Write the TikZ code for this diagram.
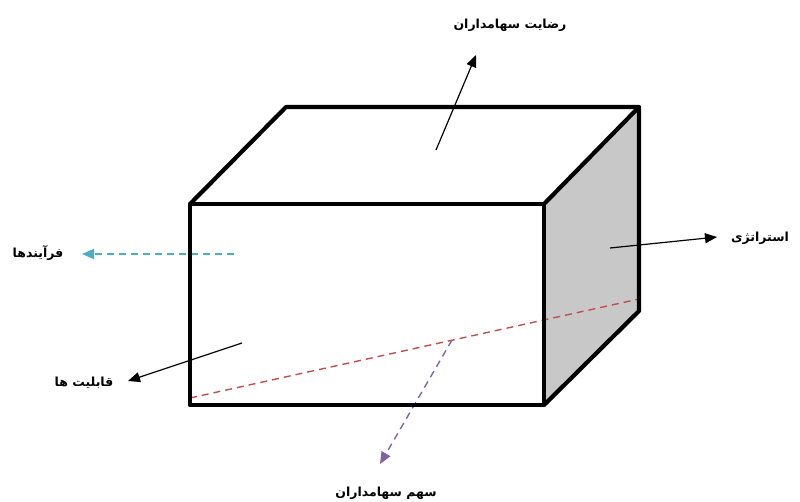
\documentclass[tikz,border=0pt]{standalone}
\usepackage{fontspec}
\TeXXeTstate=1
\newfontfamily\persianfont[Script=Arabic]{DejaVu Sans}
\usepackage{xcolor}
\usepackage{tikz}
\usetikzlibrary{arrows.meta}

\definecolor{sidegray}{RGB}{200,200,200}
\definecolor{tealdash}{RGB}{75,172,198}
\definecolor{reddash}{RGB}{192,80,77}
\definecolor{violetdash}{RGB}{128,100,162}

\begin{document}
\begin{tikzpicture}[x=1pt, y=-1pt,
  boxedge/.style={line width=4.2pt, line join=round},
  pointer/.style={line width=1.2pt, -{Triangle[length=12pt, width=10pt]}},
  dashpointer/.style={line width=1.4pt, dash pattern=on 7pt off 5pt, -{Triangle[length=12pt, width=10pt]}},
  falabel/.style={font=\persianfont\bfseries\fontsize{12.5}{14}\selectfont, inner sep=1pt}]
  \useasboundingbox (0,0) rectangle (800,501);

  % Box corners
  \coordinate (fbl) at (190,405);
  \coordinate (fbr) at (544,405);
  \coordinate (ftl) at (190,204);
  \coordinate (ftr) at (544,204);
  \coordinate (btl) at (286,107);
  \coordinate (btr) at (639,107);
  \coordinate (bbr) at (639,311);

  % Shaded side face
  \fill[sidegray] (ftr) -- (btr) -- (bbr) -- (fbr) -- cycle;

  % Dashed lines across the box
  \coordinate (redA) at (190,398);
  \coordinate (redB) at (639,299);
  \draw[reddash, line width=1.4pt, dash pattern=on 7pt off 5pt] (redA) -- (redB);
  \coordinate (shareIn) at (452,340);
  \coordinate (shareTip) at (380,464);
  \draw[dashpointer, violetdash] (shareIn) -- (shareTip);
  \coordinate (procIn) at (234,254);
  \coordinate (procTip) at (82,254);
  \draw[dashpointer, tealdash] (procIn) -- (procTip);

  % Box edges
  \draw[boxedge] (fbl) rectangle (ftr);
  \draw[boxedge] (ftl) -- (btl) -- (btr) -- (bbr) -- (fbr);
  \draw[boxedge] (ftr) -- (btr);

  % Solid pointers
  \coordinate (satIn) at (436,150);
  \coordinate (satTip) at (476,55);
  \draw[pointer] (satIn) -- (satTip);
  \coordinate (stratIn) at (610,248);
  \coordinate (stratTip) at (717,237);
  \draw[pointer] (stratIn) -- (stratTip);
  \coordinate (capIn) at (242,343);
  \coordinate (capTip) at (128,381);
  \draw[pointer] (capIn) -- (capTip);

  % Labels
  \node[falabel] (sat) at (510,25) {\beginR رضایت سهامداران\endR};
  \node[falabel] (strat) at (760,238) {\beginR استراتژی\endR};
  \node[falabel] (proc) at (38,253) {\beginR فرآیندها\endR};
  \node[falabel] (cap) at (84,383) {\beginR قابلیت ها\endR};
  \node[falabel] (share) at (386,493) {\beginR سهم سهامداران\endR};
\end{tikzpicture}
\end{document}
